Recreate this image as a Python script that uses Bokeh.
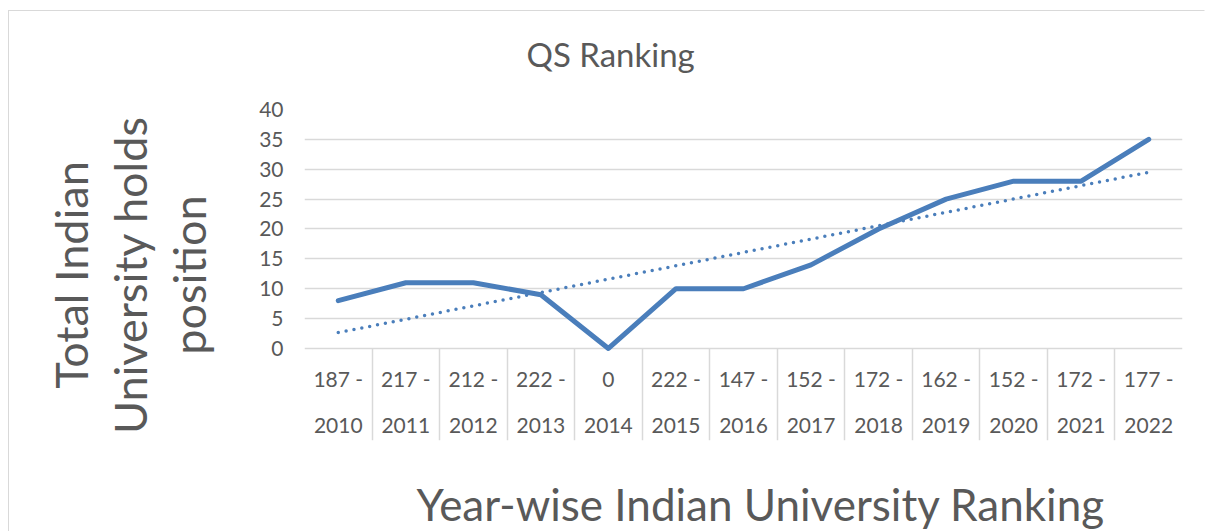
import numpy as np
from bokeh.plotting import figure
from bokeh.models import Range1d, FixedTicker, Title
from bokeh.embed import file_html
from bokeh.resources import INLINE

# ---- data ----
years = ["2010", "2011", "2012", "2013", "2014", "2015", "2016",
         "2017", "2018", "2019", "2020", "2021", "2022"]
ranks = ["187 -", "217 -", "212 -", "222 -", "0", "222 -", "147 -",
         "152 -", "172 -", "162 -", "152 -", "172 -", "177 -"]
holds = [8, 11, 11, 9, 0, 10, 10, 14, 20, 25, 28, 28, 35]
y_ticks = [0, 5, 10, 15, 20, 25, 30, 35, 40]
title_text = "QS Ranking"
x_title = "Year-wise Indian University Ranking"
y_title = "Total Indian\nUniversity holds\nposition"

tick_labels = [f"{r}\n{y}" for r, y in zip(ranks, years)]
n = len(years)
xs = [i + 0.5 for i in range(n)]

FONT = "Lato"
TXT = "#595959"
GRID = "#d9d9d9"
BLUE = "#4a7ebb"

Y_MIN = -15.4  # space below zero holds the category labels
p = figure(frame_width=878, frame_height=331,
           x_range=Range1d(0, n), y_range=Range1d(Y_MIN, 40),
           output_backend="svg", toolbar_location=None,
           min_border_left=295, min_border_right=22,
           min_border_top=98, min_border_bottom=91)
p.styles = {"margin-left": "8px", "margin-top": "10px",
            "border-left": f"1px solid {GRID}", "border-top": f"1px solid {GRID}",
            "border-right": "1px solid white", "border-bottom": "0px"}
p.outline_line_color = None
p.background_fill_color = "white"
p.border_fill_color = "white"

# title (a blank second line lifts it away from the plot area)
p.title.text = title_text + "\n "
p.title.text_font = FONT
p.title.text_font_size = "33px"
p.title.text_font_style = "normal"
p.title.text_color = TXT
p.title.text_line_height = 0.9
p.title.align = "left"
p.title.offset = 222
p.title.standoff = 0

# y axis
ya = p.yaxis[0]
ya.ticker = FixedTicker(ticks=y_ticks)
ya.axis_line_color = None
ya.major_tick_line_color = None
ya.minor_tick_line_color = None
ya.major_tick_out = 0
ya.major_tick_in = 0
ya.major_label_standoff = 21
ya.major_label_text_font = FONT
ya.major_label_text_font_size = "21px"
ya.major_label_text_color = TXT
ya.axis_label = y_title
ya.axis_label_text_font = FONT
ya.axis_label_text_font_size = "45px"
ya.axis_label_text_font_style = "normal"
ya.axis_label_text_color = TXT
ya.axis_label_text_line_height = 1.09
ya.axis_label_standoff = 40

# x axis (drawn at y=0)
xa = p.xaxis[0]
xa.fixed_location = 0
xa.ticker = FixedTicker(ticks=xs)
xa.major_label_overrides = {x: lab for x, lab in zip(xs, tick_labels)}
xa.axis_line_color = None
xa.major_tick_line_color = None
xa.minor_tick_line_color = None
xa.major_tick_out = 0
xa.major_tick_in = 0
xa.major_label_standoff = 18
xa.major_label_text_font = FONT
xa.major_label_text_font_size = "21px"
xa.major_label_text_color = TXT
xa.major_label_text_line_height = 1.83

# x axis title, below the category labels (blank first line pushes it down)
p.add_layout(Title(text=" \n" + x_title, align="left", offset=112, standoff=-2,
                   text_font=FONT, text_font_size="44px",
                   text_line_height=0.72,
                   text_font_style="normal", text_color=TXT), "below")

# grids
p.ygrid.grid_line_color = GRID
p.ygrid.grid_line_width = 1.5
p.xgrid.ticker = FixedTicker(ticks=list(range(n + 1)))
p.xgrid.grid_line_color = GRID
p.xgrid.grid_line_width = 1.5
p.xgrid.cross_bounds = (Y_MIN, 0)

# series
p.line(xs, holds, line_color=BLUE, line_width=5,
       line_join="round", line_cap="round")

# linear trendline
coef = np.polyfit(xs, holds, 1)
trend = [coef[0] * x + coef[1] for x in xs]
p.line(xs, trend, line_color=BLUE, line_width=3.5,
       line_dash="0 8", line_cap="round")

open("out.html", "w").write(file_html(p, INLINE))
